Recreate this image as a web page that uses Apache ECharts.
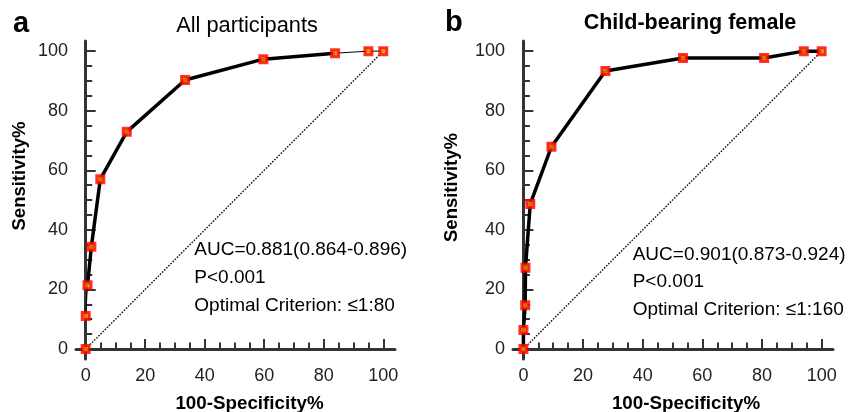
<!DOCTYPE html>
<html>
<head>
<meta charset="utf-8">
<script src="https://cdn.jsdelivr.net/npm/echarts@6/dist/echarts.min.js"></script>
<style>
html,body{margin:0;padding:0;background:#fff;}
#c{width:857px;height:412px;}
</style>
</head>
<body>
<div id="c"></div>
<script>
// ---- data ----
const panelLetters = ['a', 'b'];
const panelTitles = ['All participants', 'Child-bearing female'];
const xAxisTitle = '100-Specificity%';
const yAxisTitle = 'Sensitivity%';
const tickLabels = [0, 20, 40, 60, 80, 100];
const minorTicks = [0,5,10,15,20,25,30,35,40,45,50,55,60,65,70,75,80,85,90,95,100];

// Panel a: All participants
const fprA = [0, 0, 0.6, 1.9, 4.9, 13.8, 33.4, 59.7, 83.8, 95, 100];
const sensA = [0, 11.1, 21.4, 34.3, 57.0, 72.9, 90.3, 97.3, 99.3, 100, 100];
const notesA = ['AUC=0.881(0.864-0.896)', 'P<0.001', 'Optimal Criterion: \u22641:80'];

// Panel b: Child-bearing female
const fprB = [0, 0, 0.6, 0.7, 2.3, 9.4, 27.5, 53.5, 80.7, 94, 100];
const sensB = [0, 6.4, 14.7, 27.3, 48.7, 67.9, 93.3, 97.7, 97.7, 100, 100];
const notesB = ['AUC=0.901(0.873-0.924)', 'P<0.001', 'Optimal Criterion: \u22641:160'];

const refLine = [[0, 0], [100, 100]];

// ---- chart ----
const FONT = '"Liberation Sans", Arial, Helvetica, sans-serif';
const AX = '#333';
const pair = (xs, ys, a, b) => xs.slice(a, b).map((x, i) => [x, ys[a + i]]);

const grids = [
  {left: 76, top: 41, width: 319, height: 318},
  {left: 513, top: 41, width: 320, height: 318}
];
const xRanges = [[-3.26, 103.94], [-3.49, 103.8]];
const yRange = [-3.36, 103.4];

const xAxes = [], yAxes = [];
grids.forEach((g, gi) => {
  xAxes.push({
    type: 'value', gridIndex: gi, position: 'bottom', min: xRanges[gi][0], max: xRanges[gi][1],
    axisLine: {show: true, lineStyle: {color: AX, width: 3}},
    axisTick: {show: true, inside: true, length: 10, lineStyle: {color: AX, width: 2}, customValues: tickLabels},
    axisLabel: {show: true, customValues: tickLabels, fontSize: 18, color: '#222', fontFamily: FONT, margin: 8},
    splitLine: {show: false}
  });
  xAxes.push({
    type: 'value', gridIndex: gi, position: 'bottom', min: xRanges[gi][0], max: xRanges[gi][1],
    axisLine: {show: false},
    axisTick: {show: true, inside: true, length: 6.5, lineStyle: {color: AX, width: 2}, customValues: minorTicks},
    axisLabel: {show: false},
    splitLine: {show: false}
  });
  yAxes.push({
    type: 'value', gridIndex: gi, position: 'left', min: yRange[0], max: yRange[1],
    axisLine: {show: true, lineStyle: {color: AX, width: 3}},
    axisTick: {show: true, inside: true, length: 10, lineStyle: {color: AX, width: 2}, customValues: tickLabels},
    axisLabel: {show: true, customValues: tickLabels, fontSize: 18, color: '#222', fontFamily: FONT, margin: 8},
    splitLine: {show: false}
  });
  yAxes.push({
    type: 'value', gridIndex: gi, position: 'left', min: yRange[0], max: yRange[1],
    axisLine: {show: false},
    axisTick: {show: true, inside: true, length: 6.5, lineStyle: {color: AX, width: 2}, customValues: minorTicks},
    axisLabel: {show: false},
    splitLine: {show: false}
  });
});

const marker = {
  symbol: 'rect', symbolSize: 7,
  itemStyle: {color: '#ff8c00', borderColor: '#ff0000', borderWidth: 3}
};

function panelSeries(gi, xs, ys, thinRanges, thickRange) {
  const xi = gi * 2, yi = gi * 2;
  const s = [];
  s.push({
    type: 'line', xAxisIndex: xi, yAxisIndex: yi, data: refLine, showSymbol: false, silent: true,
    lineStyle: {color: '#111', width: 1.4, type: [1.6, 1.4]}, z: 1
  });
  thinRanges.forEach(r => s.push({
    type: 'line', xAxisIndex: xi, yAxisIndex: yi, data: pair(xs, ys, r[0], r[1]), showSymbol: false,
    lineStyle: {color: '#000', width: 1}, z: 2
  }));
  s.push({
    type: 'line', xAxisIndex: xi, yAxisIndex: yi, data: pair(xs, ys, thickRange[0], thickRange[1]), showSymbol: false,
    lineStyle: {color: '#000', width: 3.5}, z: 3
  });
  s.push(Object.assign({
    type: 'scatter', xAxisIndex: xi, yAxisIndex: yi, data: pair(xs, ys, 0, xs.length), z: 5
  }, marker));
  return s;
}

const series = [].concat(
  panelSeries(0, fprA, sensA, [[1, 3], [8, 11]], [2, 9]),
  panelSeries(1, fprB, sensB, [], [0, 11])
);

function txt(x, y, text, size, weight, align, rot) {
  return {
    type: 'text', x: x, y: y, rotation: rot || 0, silent: true,
    style: {text: text, fill: '#000', font: (weight || 'normal') + ' ' + size + 'px ' + FONT,
      align: align || 'left', verticalAlign: 'middle'}
  };
}

const graphic = [
  txt(13, 24, panelLetters[0], 29, 'bold'),
  txt(445, 23, panelLetters[1], 29, 'bold'),
  txt(247, 26, panelTitles[0], 21.8, 'normal', 'center'),
  txt(690, 23, panelTitles[1], 21.5, 'bold', 'center'),
  txt(20, 176, yAxisTitle, 18.5, 'bold', 'center', Math.PI / 2),
  txt(452, 187.5, yAxisTitle, 18.5, 'bold', 'center', Math.PI / 2),
  txt(249.5, 404, xAxisTitle, 18.8, 'bold', 'center'),
  txt(686, 404, xAxisTitle, 18.8, 'bold', 'center')
];
[249.3, 277.7, 305.7].forEach((y, i) => graphic.push(txt(194.3, y, notesA[i], 19, 'normal')));
[255, 281.7, 310].forEach((y, i) => graphic.push(txt(632.7, y, notesB[i], 19, 'normal')));

const chart = echarts.init(document.getElementById('c'), null, {renderer: 'canvas'});
chart.setOption({
  animation: false,
  backgroundColor: '#fff',
  grid: grids,
  xAxis: xAxes,
  yAxis: yAxes,
  series: series,
  graphic: graphic
});
</script>
</body>
</html>
